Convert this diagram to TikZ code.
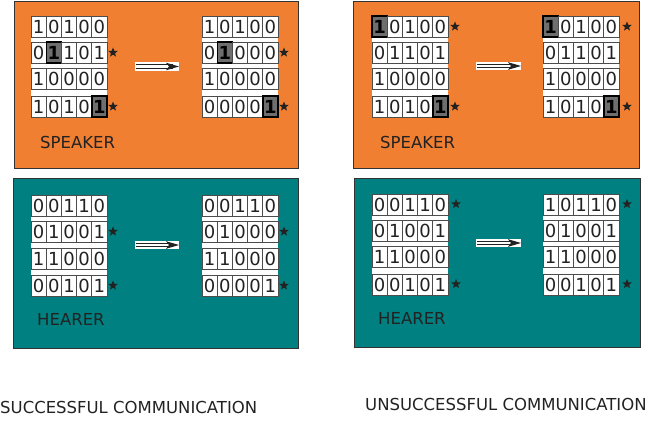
\documentclass[tikz,border=0pt]{standalone}
\usepackage{fontspec}
\setmainfont{DejaVu Sans}
\usetikzlibrary{shapes.geometric}
\definecolor{orangebg}{HTML}{F07F32}
\definecolor{tealbg}{HTML}{008080}
\definecolor{ink}{HTML}{222222}
\definecolor{hgray}{HTML}{6E6E6E}
\newcommand\digfont{\fontsize{18}{18}\selectfont}
\newcommand\lblfont{\fontsize{16.5}{18}\selectfont}
% name, x left, y top, digits, highlighted column (0 = none)
\newcommand\bitrow[5]{%
  \foreach \d [count=\i] in {#4}{%
    \ifnum\i=#5\relax
      \node[hcell] (#1c\i) at ({#2+(\i-0.5)*15.2},{#3+10.5}) {\textbf{\d}};
    \else
      \node[cell] (#1c\i) at ({#2+(\i-0.5)*15.2},{#3+10.5}) {\d};
    \fi}}
% name, x start, x end, y
\newcommand\bigarrow[4]{%
  \coordinate (#1s) at (#2,#4);
  \coordinate (#1e) at (#3,#4);
  \fill[white] ({#2},{#4-4}) rectangle ({#3},{#4+4});
  \draw[arrowline] ({#2+1},{#4-1.6}) -- ({#3-6},{#4-1.6});
  \draw[arrowline] ({#2+1},{#4+1.6}) -- ({#3-6},{#4+1.6});
  \fill[ink] ({#3-13},{#4-3.8}) -- (#1e) -- ({#3-13},{#4+3.8}) -- ({#3-10},#4) -- cycle;}
\begin{document}
\begin{tikzpicture}[x=1pt,y=-1pt,
  cell/.style={draw=gray!60!black, line width=0.8pt, fill=white, minimum width=15.2pt,
    minimum height=21pt, inner sep=0pt, font=\digfont, text=ink},
  hcell/.style={cell, draw=black, line width=1.4pt, fill=hgray, text=black},
  panel/.style={draw=gray!40!black, line width=0.8pt},
  lbl/.style={font=\lblfont, text=ink, anchor=west, inner sep=0pt},
  starmark/.style={star, star points=5, star point ratio=2.3, fill=ink, draw=none,
    minimum size=10pt, inner sep=0pt},
  gridbg/.style={fill=white, draw=none},
  arrowline/.style={draw=ink, line width=0.9pt}]
\useasboundingbox (0,0) rectangle (650,420);

% ---------------- top left: speaker (successful)
\draw[panel, fill=orangebg] (14,1) rectangle (298,168);
\fill[gridbg] (31,16) rectangle (107,117);
\bitrow{tla}{31}{16}{1,0,1,0,0}{0}
\bitrow{tlb}{31}{42}{0,1,1,0,1}{2}
\bitrow{tlc}{31}{68}{1,0,0,0,0}{0}
\bitrow{tld}{31}{96}{1,0,1,0,1}{5}
\node[starmark] (tls1) at (113,52.5) {};
\node[starmark] (tls2) at (113,106.5) {};
\fill[gridbg] (202,16) rectangle (278,117);
\bitrow{tra}{202}{16}{1,0,1,0,0}{0}
\bitrow{trb}{202}{42}{0,1,0,0,0}{2}
\bitrow{trc}{202}{68}{1,0,0,0,0}{0}
\bitrow{trd}{202}{96}{0,0,0,0,1}{5}
\node[starmark] (trs1) at (284,52.5) {};
\node[starmark] (trs2) at (284,106.5) {};
\bigarrow{ar1}{135}{179}{66.5}
\node[lbl] (spk1) at (40,142) {SPEAKER};

% ---------------- top right: speaker (unsuccessful)
\draw[panel, fill=orangebg] (353,1) rectangle (639,168);
\fill[gridbg] (372,16) rectangle (448,117);
\bitrow{ula}{372}{16}{1,0,1,0,0}{1}
\bitrow{ulb}{372}{42}{0,1,1,0,1}{0}
\bitrow{ulc}{372}{68}{1,0,0,0,0}{0}
\bitrow{uld}{372}{96}{1,0,1,0,1}{5}
\node[starmark] (uls1) at (455,26.5) {};
\node[starmark] (uls2) at (455,106.5) {};
\fill[gridbg] (543,16) rectangle (619,117);
\bitrow{ura}{543}{16}{1,0,1,0,0}{1}
\bitrow{urb}{543}{42}{0,1,1,0,1}{0}
\bitrow{urc}{543}{68}{1,0,0,0,0}{0}
\bitrow{urd}{543}{96}{1,0,1,0,1}{5}
\node[starmark] (urs1) at (627,26.5) {};
\node[starmark] (urs2) at (627,106.5) {};
\bigarrow{ar2}{476}{521}{66}
\node[lbl] (spk2) at (380,142) {SPEAKER};

% ---------------- bottom left: hearer (successful)
\draw[panel, fill=tealbg] (13,178) rectangle (298,348);
\fill[gridbg] (31,195) rectangle (107,296);
\bitrow{bla}{31}{195}{0,0,1,1,0}{0}
\bitrow{blb}{31}{221}{0,1,0,0,1}{0}
\bitrow{blc}{31}{248}{1,1,0,0,0}{0}
\bitrow{bld}{31}{275}{0,0,1,0,1}{0}
\node[starmark] (bls1) at (113,231.5) {};
\node[starmark] (bls2) at (113,285.5) {};
\fill[gridbg] (202,195) rectangle (278,296);
\bitrow{bra}{202}{195}{0,0,1,1,0}{0}
\bitrow{brb}{202}{221}{0,1,0,0,0}{0}
\bitrow{brc}{202}{248}{1,1,0,0,0}{0}
\bitrow{brd}{202}{275}{0,0,0,0,1}{0}
\node[starmark] (brs1) at (284,231.5) {};
\node[starmark] (brs2) at (284,285.5) {};
\bigarrow{ar3}{135}{179}{245}
\node[lbl] (hr1) at (37,319) {HEARER};

% ---------------- bottom right: hearer (unsuccessful)
\draw[panel, fill=tealbg] (354,178) rectangle (640,347);
\fill[gridbg] (372,194) rectangle (448,295);
\bitrow{vla}{372}{194}{0,0,1,1,0}{0}
\bitrow{vlb}{372}{220}{0,1,0,0,1}{0}
\bitrow{vlc}{372}{246}{1,1,0,0,0}{0}
\bitrow{vld}{372}{274}{0,0,1,0,1}{0}
\node[starmark] (vls1) at (456,204) {};
\node[starmark] (vls2) at (456,284) {};
\fill[gridbg] (543,194) rectangle (619,295);
\bitrow{vra}{543}{194}{1,0,1,1,0}{0}
\bitrow{vrb}{543}{220}{0,1,0,0,1}{0}
\bitrow{vrc}{543}{246}{1,1,0,0,0}{0}
\bitrow{vrd}{543}{274}{0,0,1,0,1}{0}
\node[starmark] (vrs1) at (627,204) {};
\node[starmark] (vrs2) at (627,284) {};
\bigarrow{ar4}{476}{521}{243}
\node[lbl] (hr2) at (378,318) {HEARER};

% ---------------- captions
\node[lbl] (cap1) at (0,407) {SUCCESSFUL COMMUNICATION};
\node[lbl] (cap2) at (365,404) {UNSUCCESSFUL COMMUNICATION};
\end{tikzpicture}
\end{document}
